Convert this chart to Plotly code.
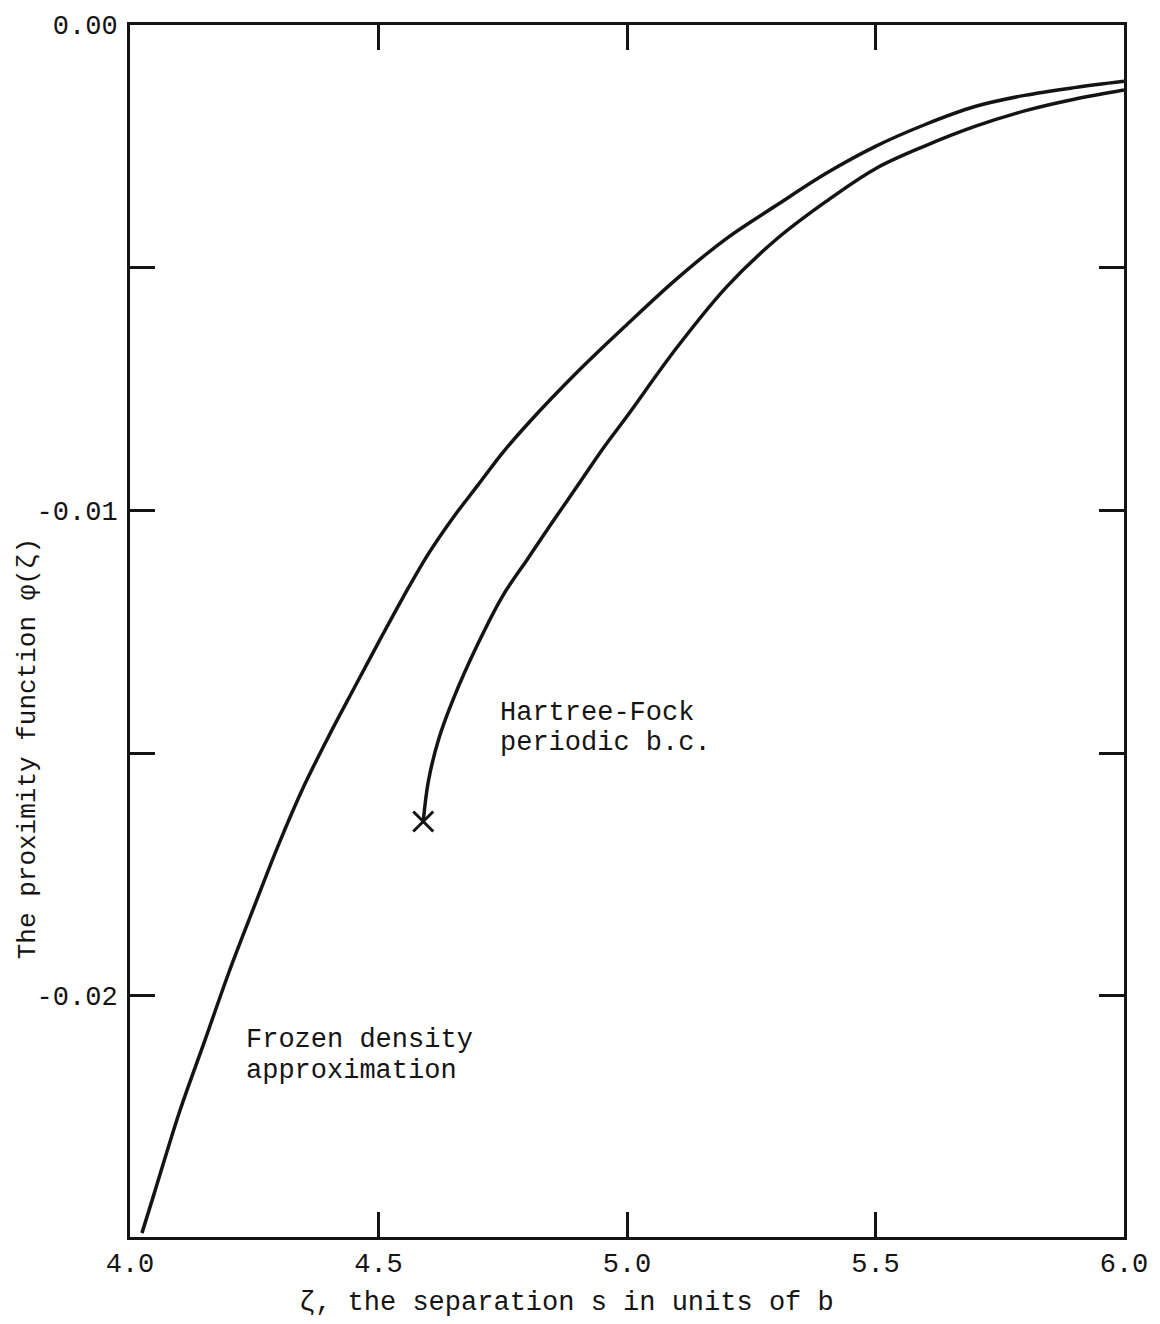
import plotly.graph_objects as go

# Frozen density approximation: phi(zeta) vs zeta
fd_zeta = [4.024, 4.05, 4.10, 4.15, 4.20, 4.25, 4.30, 4.35, 4.40, 4.45, 4.50, 4.55,
           4.60, 4.65, 4.70, 4.75, 4.80, 4.90, 5.00, 5.10, 5.20, 5.30, 5.40, 5.50,
           5.60, 5.70, 5.80, 5.90, 6.00]
fd_phi = [-0.02489, -0.02403, -0.02238, -0.02094, -0.01949, -0.01816, -0.01686,
          -0.01568, -0.01465, -0.01368, -0.01272, -0.01178, -0.01090, -0.01015,
          -0.00948, -0.00881, -0.00822, -0.00715, -0.00617, -0.00523, -0.00440,
          -0.00372, -0.00306, -0.00250, -0.00205, -0.00168, -0.00145, -0.00129,
          -0.00116]

# Hartree-Fock with periodic boundary conditions
hf_zeta = [4.590, 4.600, 4.620, 4.650, 4.700, 4.750, 4.800, 4.850, 4.900, 4.950,
           5.000, 5.100, 5.200, 5.300, 5.400, 5.500, 5.600, 5.700, 5.800, 5.900, 6.000]
hf_phi = [-0.01641, -0.01560, -0.01475, -0.01390, -0.01275, -0.01176, -0.01100,
          -0.01024, -0.00950, -0.00875, -0.00806, -0.00665, -0.00540, -0.00442,
          -0.00364, -0.00296, -0.00249, -0.00209, -0.00177, -0.00153, -0.00134]

x_ticks = [4.0, 4.5, 5.0, 5.5, 6.0]
x_labels = ["4.0", "4.5", "5.0", "5.5", "6.0"]
y_ticks = [0.0, -0.005, -0.01, -0.015, -0.02]
y_labels = ["0.00", "", "-0.01", "", "-0.02"]

fd_label = ["Frozen density", "approximation"]
fd_label_pos = (4.23, [-0.02092, -0.02156])
hf_label = ["Hartree-Fock", "periodic b.c."]
hf_label_pos = (4.74, [-0.01417, -0.01480])

INK = "#141414"
MONO = "Courier New, Nimbus Mono PS, FreeMono, Liberation Mono, monospace"

fig = go.Figure()
for xs, ys in ((fd_zeta, fd_phi), (hf_zeta, hf_phi)):
    fig.add_trace(go.Scatter(x=xs, y=ys, mode="lines",
                             line=dict(color=INK, width=3.5, shape="spline", smoothing=1.0),
                             showlegend=False))
# start of the Hartree-Fock curve
fig.add_trace(go.Scatter(x=hf_zeta[:1], y=hf_phi[:1], mode="markers",
                         marker=dict(symbol="x-thin", size=20,
                                     line=dict(color=INK, width=3)),
                         showlegend=False))

for lines, (lx, lys) in ((fd_label, fd_label_pos), (hf_label, hf_label_pos)):
    for txt, ly in zip(lines, lys):
        fig.add_annotation(x=lx, y=ly, xref="x", yref="y", xanchor="left", yanchor="middle",
                           text=txt, showarrow=False,
                           font=dict(family=MONO, size=27, color=INK))

W, H = 1160, 1324
L, R, T, B = 130, 30, 21, 87
PW, PH = W - L - R, H - T - B

# axis titles, placed in pixel terms relative to the plot frame
fig.add_annotation(x=(569 - L) / PW, y=(H - B - 1303) / PH, xref="paper", yref="paper",
                   xanchor="center", yanchor="middle", showarrow=False,
                   text="ζ, the separation s in units of b",
                   font=dict(family=MONO, size=27, color=INK))
fig.add_annotation(x=(27 - L) / PW, y=(H - B - 747) / PH, xref="paper", yref="paper",
                   xanchor="center", yanchor="middle", showarrow=False,
                   text="The proximity function φ(ζ)", textangle=-90,
                   font=dict(family=MONO, size=26, color=INK))

axis_common = dict(showgrid=False, zeroline=False, showline=True, linecolor=INK, linewidth=3,
                   mirror="ticks", ticks="inside", ticklen=25, tickwidth=3, tickcolor=INK,
                   tickfont=dict(family=MONO, size=27, color=INK))

fig.update_xaxes(range=[4.0, 6.0], tickvals=x_ticks, ticktext=x_labels, **axis_common)
fig.update_yaxes(range=[-0.02497, 0.0], tickvals=y_ticks, ticktext=y_labels,
                 ticklabelstandoff=4, **axis_common)

fig.update_layout(width=W, height=H, margin=dict(l=L, r=R, t=T, b=B),
                  paper_bgcolor="white", plot_bgcolor="white")

fig.write_html("out.html")
